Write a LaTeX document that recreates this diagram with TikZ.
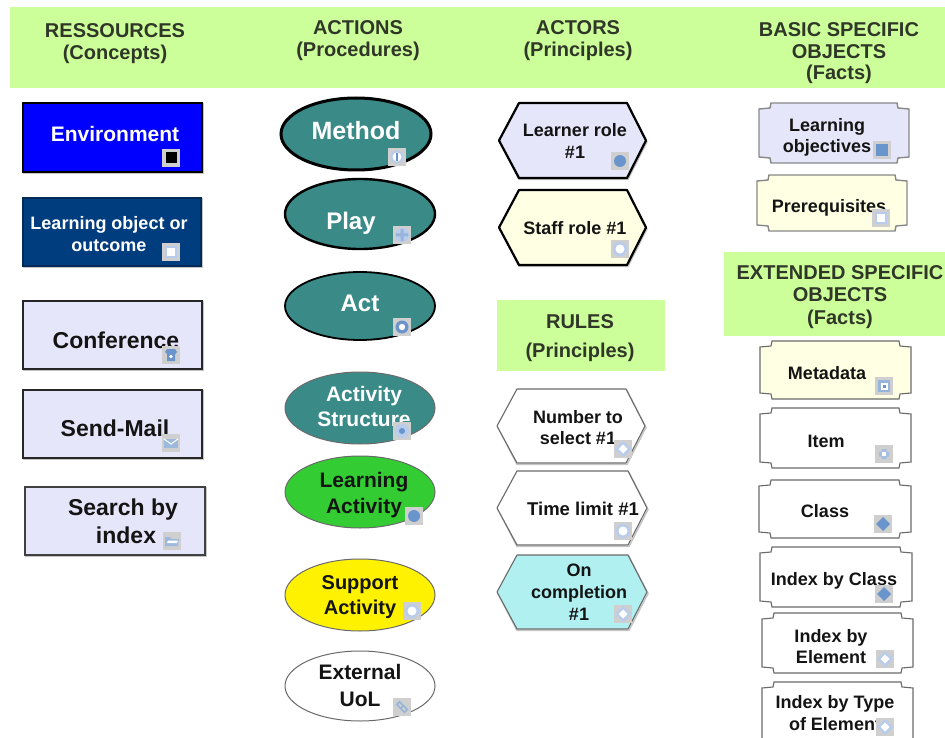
\documentclass[tikz,border=0pt]{standalone}
\usepackage{fontspec}
\setmainfont{Liberation Sans}
\usetikzlibrary{shapes.geometric,calc}
\definecolor{hdrgreen}{HTML}{CCFF99}
\definecolor{lav}{HTML}{E6E6FA}
\definecolor{cream}{HTML}{FFFFE3}
\definecolor{tealf}{HTML}{3A8A88}
\definecolor{navyf}{HTML}{003D7F}
\definecolor{greenf}{HTML}{33CC33}
\definecolor{aquaf}{HTML}{B0F0F0}
\definecolor{icbg}{HTML}{CFCFCF}
\definecolor{icblue}{HTML}{6A94CC}
\definecolor{icpale}{HTML}{B8CCEE}
\definecolor{ink}{HTML}{141414}
\definecolor{edge}{HTML}{6A6A6A}
\definecolor{shade}{HTML}{C4C4C4}
\tikzset{
  hdr/.style={align=center,inner sep=0pt,text=ink!85!hdrgreen},
  lbl/.style={align=center,inner sep=0pt,text=ink},
  wlbl/.style={align=center,inner sep=0pt,text=white},
  band/.style={fill=hdrgreen,draw=none},
  mid/.style={draw=black!85,line width=1.8pt},
  thin edge/.style={draw=edge,line width=1.1pt},
  dropshade/.style={draw=shade,line width=1.4pt}
}
% fonts: size in picture units
\newcommand{\fb}[1]{\fontsize{#1}{24}\selectfont\bfseries}
\newcommand{\fbl}[2]{\fontsize{#1}{#2}\selectfont\bfseries}
% icons
\newcommand{\icon}[3]{\begin{scope}[shift={(#1,#2)}]
  \fill[icbg] (-9,-9) rectangle (9,9);
  #3
\end{scope}}
\newcommand{\gblack}{\fill[black] (-5.5,-5.5) rectangle (5.5,5.5);}
\newcommand{\gsqpale}{\fill[icpale] (-6,-6) rectangle (6,6);\fill[white] (-4,-4) rectangle (4,4);}
\newcommand{\gsqblue}{\fill[icblue] (-6,-6) rectangle (6,6);}
\newcommand{\gsqdot}{\fill[icblue!70] (-6,-6) rectangle (6,6);\fill[white] (-3.5,-3.5) rectangle (3.5,3.5);\fill[icblue] (-1.5,-1.5) rectangle (1.5,1.5);}
\newcommand{\gitem}{\fill[icblue!60] (-2.5,-5) rectangle (2.5,5) (-5,-2.5) rectangle (5,2.5);\fill[white] (-2,-2) rectangle (2,2);}
\newcommand{\gphone}{\fill[icblue] (-6,-3) -- (-4,-6) -- (4,-6) -- (6,-3) -- (4,-1) -- (4,6) -- (-4,6) -- (-4,-1) -- cycle;\fill[white] (0,1.5) circle (1.8);}
\newcommand{\gmail}{\fill[icblue!65] (-7,-4) rectangle (7,5);\draw[white,line width=1pt] (-7,-4) -- (0,1) -- (7,-4);}
\newcommand{\gfolder}{\fill[icblue!65] (-7,-4) -- (-2,-4) -- (0,-2) -- (7,-2) -- (6,5) -- (-7,5) -- cycle;\fill[white] (-4,-0.5) -- (6,-0.5) -- (5,2) -- (-5,2) -- cycle;}
\newcommand{\gdisc}{\fill[icblue] (0,0) circle (6);}
\newcommand{\gring}{\fill[icpale] (0,0) circle (7);\fill[white] (0,0) circle (4.5);}
\newcommand{\gringd}{\fill[icblue] (0,0) circle (6.5);\fill[white] (0,0) circle (3.2);}
\newcommand{\gringc}{\fill[icpale] (0,0) circle (7);\fill[icblue] (0,0) circle (3);}
\newcommand{\gmethod}{\fill[icpale] (0,0) circle (6.5);\fill[white] (0,0) circle (4.5);\fill[icblue] (-1.4,-4) rectangle (1.4,4);}
\newcommand{\gplay}{\fill[icpale] (0,0) circle (7);\fill[icblue!70] (-1.5,-6) rectangle (1.5,6) (-6,-1.5) rectangle (6,1.5);}
\newcommand{\gdiamond}{\fill[icblue] (-7,0) -- (0,-7) -- (7,0) -- (0,7) -- cycle;}
\newcommand{\gdiapale}{\fill[icpale] (-8,0) -- (0,-8) -- (8,0) -- (0,8) -- cycle;\fill[white] (-4.5,0) -- (0,-4.5) -- (4.5,0) -- (0,4.5) -- cycle;}
\newcommand{\glink}{\draw[icblue!70,line width=1.6pt,rotate=-45] (-5.5,-2) rectangle (0,2) (0,-2) rectangle (5.5,2);}
% rect box: name x1 y1 x2 y2 style
\newcommand{\rbox}[6]{\draw[dropshade] (#2+1,#3+1) rectangle (#4+1,#5+1);
  \node[rectangle,#6,anchor=north west,outer sep=0pt,inner sep=0pt,minimum width=#4-#2,minimum height=#5-#3] (#1) at (#2,#3) {};}
% ellipse: name cx cy rx ry style
\newcommand{\ellip}[6]{\node[ellipse,#6,inner sep=0pt,minimum width=2*#4,minimum height=2*#5] (#1) at (#2,#3) {};}
% hexagon: x1 y1 x2 y2 style
\newcommand{\hexa}[5]{\draw[dropshade] (#1+1,{(#2+#4)/2+1.5}) -- (#1+20,#2+1.5) -- (#3-18,#2+1.5) -- (#3+1,{(#2+#4)/2+1.5}) -- (#3-18,#4+1.5) -- (#1+20,#4+1.5) -- cycle;
  \path[#5,line join=round] (#1,{(#2+#4)/2}) -- (#1+20,#2) -- (#3-19,#2) -- (#3,{(#2+#4)/2}) -- (#3-19,#4) -- (#1+20,#4) -- cycle;}
% plaque with notched corners
\newcommand{\plaq}[5]{\path[#5] (#1+12,#2) -- (#3-12,#2) -- (#3-11,#2+5) -- (#3,#2+6) -- (#3,#4-6) -- (#3-11,#4-5) -- (#3-12,#4) -- (#1+12,#4) -- (#1+11,#4-5) -- (#1,#4-6) -- (#1,#2+6) -- (#1+11,#2+5) -- cycle;}
\begin{document}
\begin{tikzpicture}[x=1pt,y=-1pt]
\useasboundingbox (0,0) rectangle (945,738);
\fill[white] (0,0) rectangle (945,738);
% header bands
\node[rectangle,band,anchor=north west,inner sep=0pt,outer sep=0pt,minimum width=935,minimum height=81] (bandtop) at (10,7) {};
\node[rectangle,band,anchor=north west,inner sep=0pt,outer sep=0pt,minimum width=168,minimum height=71] (bandrules) at (497,300) {};
\node[rectangle,band,anchor=north west,inner sep=0pt,outer sep=0pt,minimum width=221,minimum height=84] (bandext) at (724,252) {};
\node[hdr,font=\fbl{20}{22}] (h1) at (115,44) {RESSOURCES\\(Concepts)};
\node[hdr,font=\fbl{20}{22}] (h2) at (358,41) {ACTIONS\\(Procedures)};
\node[hdr,font=\fbl{20}{22}] (h3) at (578,41) {ACTORS\\(Principles)};
\node[hdr,font=\fbl{20}{21.5}] (h4) at (839,53.5) {BASIC SPECIFIC\\OBJECTS\\(Facts)};
\node[hdr,font=\fbl{20}{29}] (h5) at (580,338) {RULES\\(Principles)};
\node[hdr,font=\fbl{20}{22.5}] (h6) at (840,297) {EXTENDED SPECIFIC\\OBJECTS\\(Facts)};
% resources
\rbox{r1}{23}{103}{202}{172}{fill=blue,draw=black,line width=2.6pt}
\rbox{r2}{23}{198}{201}{266}{fill=navyf,draw=navyf!70!black,line width=1.2pt}
\rbox{r3}{23}{301}{202}{369}{fill=lav,mid}
\rbox{r4}{23}{390}{202}{458}{fill=lav,mid}
\rbox{r5}{25}{487}{205}{555}{fill=lav,draw=black!75,line width=1.4pt}
\node[wlbl,font=\fb{21}] (t1) at (115,134) {Environment};
\node[wlbl,font=\fbl{18}{22}] (t2) at (109,234) {Learning object or\\outcome};
\node[lbl,font=\fb{23}] (t3) at (116,340) {Conference};
\node[lbl,font=\fb{23}] (t4) at (115,428) {Send-Mail};
\node[lbl,font=\fbl{23}{28}] (t5) at (123,521) {Search by\\\hspace*{6pt}index};
\icon{171}{158}{\gblack}
\icon{171}{252}{\gsqpale}
\icon{171}{355}{\gphone}
\icon{171}{443}{\gmail}
\icon{172}{541}{\gfolder}
% actions
\ellip{a1}{356}{134}{75}{36}{fill=tealf,draw=black,line width=3pt}
\ellip{a2}{360}{214}{75}{35}{fill=tealf,draw=black,line width=2.4pt}
\ellip{a3}{360}{306}{75}{34}{fill=tealf,draw=black,line width=1.8pt}
\ellip{a4}{360}{408}{75}{36}{fill=tealf,draw=edge,line width=1pt}
\ellip{a5}{360}{492}{75}{36}{fill=greenf,draw=edge,line width=1pt}
\ellip{a6}{360}{595}{75}{36}{fill=yellow,draw=edge,line width=1pt}
\ellip{a7}{360}{686}{75}{35}{fill=white,draw=edge,line width=1pt}
\node[wlbl,font=\fb{25}] (ta1) at (356,131) {Method};
\node[wlbl,font=\fb{24}] (ta2) at (351,223) {Play};
\node[wlbl,font=\fb{24}] (ta3) at (360,303) {Act};
\node[wlbl,font=\fbl{21}{25}] (ta4) at (364,406) {Activity\\Structure};
\node[lbl,font=\fbl{21}{26}] (ta5) at (364,495) {Learning\\Activity};
\node[lbl,font=\fbl{20}{25}] (ta6) at (360,597) {Support\\Activity};
\node[lbl,font=\fbl{21}{27}] (ta7) at (360,685) {External\\UoL};
\icon{397}{157}{\gmethod}
\icon{402}{235}{\gplay}
\icon{402}{327}{\gringd}
\icon{402}{431}{\gringc}
\icon{414}{516}{\gdisc}
\icon{412}{611}{\gring}
\icon{402}{707}{\glink}
% actors & rules
\hexa{499}{103}{646}{178}{fill=lav,draw=black,line width=2.2pt}
\hexa{499}{190}{646}{265}{fill=cream,draw=black,line width=2.2pt}
\hexa{497}{389}{645}{463}{fill=white,thin edge}
\hexa{497}{471}{647}{545}{fill=white,thin edge}
\hexa{497}{555}{647}{629}{fill=aquaf,thin edge}
\node[lbl,font=\fbl{18}{22}] (tb1) at (575,141) {Learner role\\\#1};
\node[lbl,font=\fb{18}] (tb2) at (575,228) {Staff role \#1};
\node[lbl,font=\fbl{18}{21}] (tb3) at (578,428) {Number to\\select \#1};
\node[lbl,font=\fb{18.5}] (tb4) at (583,509) {Time limit \#1};
\node[lbl,font=\fbl{18}{22}] (tb5) at (579,592) {On\\completion\\\#1};
\icon{620}{161}{\gdisc}
\icon{620}{249}{\gring}
\icon{623}{449}{\gdiapale}
\icon{623}{531}{\gring}
\icon{623}{614}{\gdiapale}
% basic & extended objects
\plaq{759}{103}{909}{163}{fill=lav,draw=edge!80,line width=1.4pt}
\plaq{757}{175}{907}{231}{fill=cream,draw=edge!80,line width=1.4pt}
\plaq{760}{341}{911}{399}{fill=cream,thin edge}
\plaq{760}{408}{911}{468}{fill=white,thin edge}
\plaq{759}{480}{911}{538}{fill=white,thin edge}
\plaq{760}{547}{912}{607}{fill=white,thin edge}
\plaq{762}{613}{913}{673}{fill=white,thin edge}
\plaq{762}{682}{913}{745}{fill=white,thin edge}
\node[lbl,font=\fbl{18}{21}] (tc1) at (827,137) {Learning\\objectives};
\node[lbl,font=\fb{18}] (tc2) at (829,207.5) {Prerequisites};
\node[lbl,font=\fb{18}] (tc3) at (827,373) {Metadata};
\node[lbl,font=\fb{18}] (tc4) at (826,441) {Item};
\node[lbl,font=\fb{18}] (tc5) at (825,511) {Class};
\node[lbl,font=\fb{18}] (tc6) at (834,581) {Index by Class};
\node[lbl,font=\fbl{18}{21}] (tc7) at (831,647) {Index by\\Element};
\node[lbl,font=\fbl{18}{22}] (tc8) at (835,713.5) {Index by Type\\of Element};
\icon{882}{150}{\gsqblue}
\icon{881}{218}{\gsqpale}
\icon{884}{386}{\gsqdot}
\icon{884}{454}{\gitem}
\icon{883}{524}{\gdiamond}
\icon{884}{594}{\gdiamond}
\icon{885}{659}{\gdiapale}
\icon{885}{727}{\gdiapale}
\end{tikzpicture}
\end{document}
